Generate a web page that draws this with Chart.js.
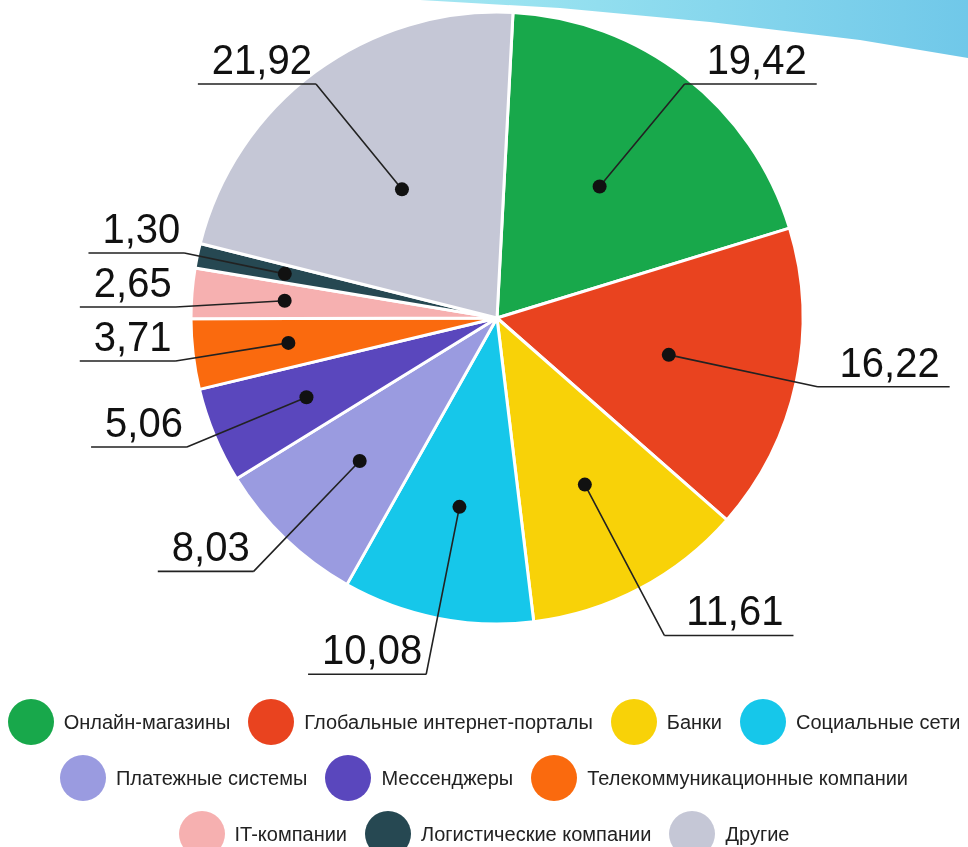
<!DOCTYPE html>
<html lang="ru">
<head>
<meta charset="utf-8">
<title>Доли</title>
<script src="https://cdn.jsdelivr.net/npm/chart.js@4.4.1/dist/chart.umd.min.js"></script>
<style>
    html, body { margin: 0; padding: 0; background: #fff; }
    body { width: 968px; height: 847px; position: relative; overflow: hidden;
           font-family: "Liberation Sans", Arial, sans-serif; }
    #band { position: absolute; left: 0; top: 0; width: 968px; height: 70px;
            background: linear-gradient(90deg, #d2f3f8 0%, #98e2f0 55%, #70c8e9 100%);
            clip-path: polygon(420px 0, 560px 8px, 710px 22px, 860px 40px, 968px 58px, 968px 0); }
    #chart { position: absolute; left: 0; top: 0; }
    #legend { position: absolute; left: 0; top: 699px; width: 968px;
              display: flex; flex-wrap: wrap; justify-content: center;
              column-gap: 18px; row-gap: 10px; }
    .item { display: flex; align-items: center; height: 46px; font-size: 20px; color: #222; }
    .dot { width: 46px; height: 46px; border-radius: 50%; margin-right: 10px; }
</style>
</head>
<body>
<div id="band"></div>
<canvas id="chart" width="968" height="847"></canvas>
<div id="legend"></div>
<script>
const categories = [
    "Онлайн-магазины", "Глобальные интернет-порталы", "Банки", "Социальные сети",
    "Платежные системы", "Мессенджеры", "Телекоммуникационные компании",
    "IT-компании", "Логистические компании", "Другие"
];
const shares = [19.42, 16.22, 11.61, 10.08, 8.03, 5.06, 3.71, 2.65, 1.30, 21.92];
const sliceColors = [
    "#18a84b", "#e9431f", "#f8d208", "#16c7ea", "#9a9be0",
    "#5a47bd", "#fa6a0e", "#f6b0b0", "#264852", "#c5c7d6"
];

const fmt = v => v.toFixed(2).replace(".", ",");

// ===== LEADER LABELS (dot in slice, line, underlined number) =====
const leaderLabels = {
    id: "leaderLabels",
    afterDatasetsDraw(chart) {
        const ctx = chart.ctx;
        const meta = chart.getDatasetMeta(0);
        const total = shares.reduce((a, b) => a + b, 0);
        ctx.save();
        ctx.font = "40px 'Liberation Sans', Arial, sans-serif";

        const items = meta.data.map((arc, i) => {
            const p = arc.getProps(["x", "y", "startAngle", "endAngle", "outerRadius"], true);
            const mid = (p.startAngle + p.endAngle) / 2;
            const dx = Math.cos(mid), dy = Math.sin(mid);
            const f = 0.72 - 0.9 * shares[i] / total;
            const k = dy > 0 ? 1.04 + 0.15 * dy : 1.06 + 0.08 * dy;
            const r = p.outerRadius;
            return {
                text: fmt(shares[i]),
                dotX: p.x + dx * r * f, dotY: p.y + dy * r * f,
                ex: p.x + dx * r * k, ey: Math.max(p.y + dy * r * k, 84),
                right: dx >= 0
            };
        });

        // push labels apart vertically on each side
        [true, false].forEach(side => {
            const list = items.filter(it => it.right === side).sort((a, b) => a.ey - b.ey);
            for (let k = 1; k < list.length; k++) {
                if (list[k].ey < list[k - 1].ey + 54) list[k].ey = list[k - 1].ey + 54;
            }
        });

        items.forEach(it => {
            const tw = ctx.measureText(it.text).width;
            let x1, x2, tx;
            if (it.right) {
                x1 = it.ex; x2 = it.ex + tw + 32; tx = it.ex + 22;
            } else {
                x1 = it.ex - tw - 18; x2 = it.ex; tx = it.ex - 4 - tw;
            }
            ctx.strokeStyle = "#222";
            ctx.lineWidth = 1.6;
            ctx.beginPath();
            ctx.moveTo(it.dotX, it.dotY);
            ctx.lineTo(it.ex, it.ey);
            ctx.moveTo(x1, it.ey);
            ctx.lineTo(x2, it.ey);
            ctx.stroke();

            ctx.fillStyle = "#111";
            ctx.beginPath();
            ctx.arc(it.dotX, it.dotY, 7, 0, Math.PI * 2);
            ctx.fill();

            ctx.save();
            ctx.translate(tx, it.ey - 10);
            ctx.scale(1, 1.08);
            ctx.textAlign = "left";
            ctx.textBaseline = "alphabetic";
            ctx.fillText(it.text, 0, 0);
            ctx.restore();
        });
        ctx.restore();
    }
};

new Chart(document.getElementById("chart"), {
    type: "pie",
    data: {
        labels: categories,
        datasets: [{
            data: shares,
            backgroundColor: sliceColors,
            borderColor: "#ffffff",
            borderWidth: 3
        }]
    },
    options: {
        responsive: false,
        animation: false,
        rotation: 3,
        radius: 306,
        layout: { padding: { left: 26, right: 0, top: 0, bottom: 211 } },
        plugins: { legend: { display: false }, tooltip: { enabled: false } }
    },
    plugins: [leaderLabels]
});

// ===== HTML LEGEND =====
const legendEl = document.getElementById("legend");
categories.forEach((name, i) => {
    const item = document.createElement("div");
    item.className = "item";
    const dot = document.createElement("span");
    dot.className = "dot";
    dot.style.background = sliceColors[i];
    item.appendChild(dot);
    item.appendChild(document.createTextNode(name));
    legendEl.appendChild(item);
});
</script>
</body>
</html>
